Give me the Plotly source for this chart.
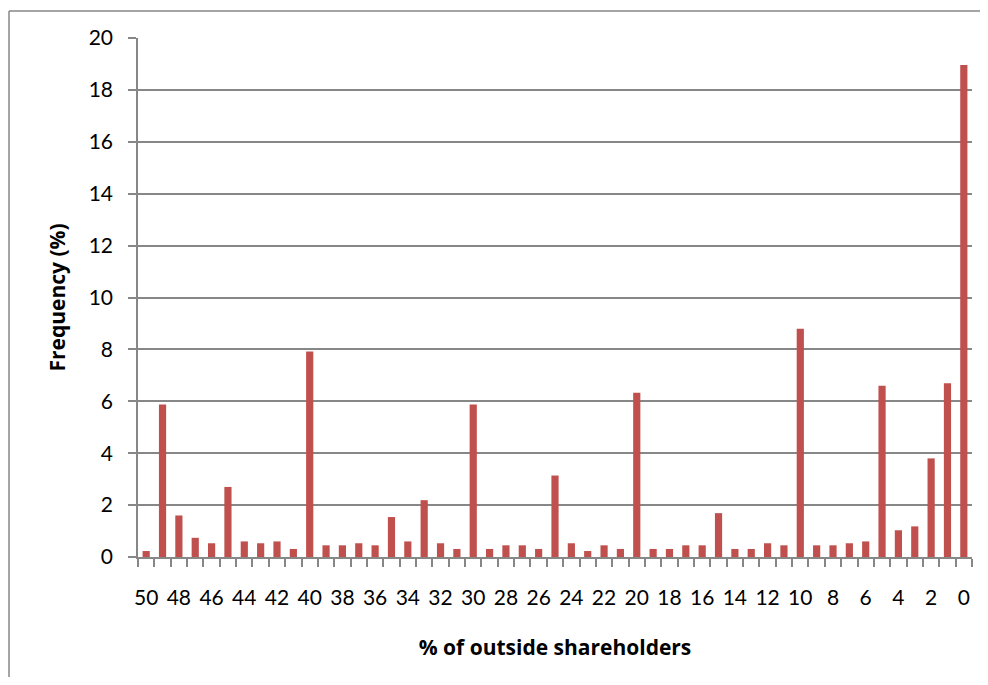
import plotly.graph_objects as go

# Categories: % of outside shareholders (50 down to 0)
categories = list(range(50, -1, -1))
frequency = [
    0.23, 5.88, 1.6, 0.74, 0.53, 2.7, 0.6, 0.53, 0.6, 0.31,   # 50..41
    7.92, 0.45, 0.45, 0.53, 0.45, 1.54, 0.6, 2.19, 0.53, 0.31,  # 40..31
    5.88, 0.31, 0.45, 0.45, 0.31, 3.14, 0.53, 0.23, 0.45, 0.31, # 30..21
    6.33, 0.31, 0.31, 0.45, 0.45, 1.69, 0.31, 0.31, 0.53, 0.45, # 20..11
    8.8, 0.45, 0.45, 0.53, 0.6, 6.6, 1.03, 1.18, 3.8, 6.7,      # 10..1
    18.96,                                                      # 0
]
x_tick_vals = list(range(50, -1, -2))
x_tick_text = [str(v) for v in x_tick_vals]
y_tick_vals = list(range(0, 21, 2))

GRAY = "#878787"
FONT = "Lato"
TITLE_FONT = "Open Sans"

fig = go.Figure(
    go.Bar(
        x=categories,
        y=frequency,
        marker=dict(color="#C0504D", line=dict(width=0)),
        hoverinfo="x+y",
    )
)

bx = (1 - 130) / 834
by = (549 - 3) / 519
fig.update_layout(
    width=972,
    height=669,
    margin=dict(l=130, r=8, t=30, b=120),
    paper_bgcolor="white",
    plot_bgcolor="white",
    bargap=0.56,
    showlegend=False,
    font=dict(family=FONT, size=21, color="#000000"),
    shapes=[
        dict(type="line", xref="paper", yref="paper",
             x0=bx, x1=bx, y0=-0.5, y1=by,
             line=dict(color=GRAY, width=1.5), layer="below"),
        dict(type="line", xref="paper", yref="paper",
             x0=bx, x1=1.5, y0=by, y1=by,
             line=dict(color=GRAY, width=1.5), layer="below"),
    ],
)

fig.update_xaxes(
    range=[50.5, -0.5],
    tickmode="array",
    tickvals=x_tick_vals,
    ticktext=x_tick_text,
    ticks="",
    showgrid=False,
    zeroline=False,
    showline=True,
    linecolor=GRAY,
    linewidth=1.5,
    ticklabelstandoff=21,
    tickfont=dict(family=FONT, size=21),
    minor=dict(ticks="outside", ticklen=8, tick0=0.5, dtick=1,
               tickcolor=GRAY, tickwidth=1.5, showgrid=False),
    title=dict(text="<b>% of outside shareholders</b>",
               font=dict(family=TITLE_FONT, size=21), standoff=32),
)

fig.update_yaxes(
    range=[0, 20],
    tickmode="array",
    tickvals=y_tick_vals,
    ticks="outside",
    ticklen=8,
    tickcolor=GRAY,
    tickwidth=1.5,
    showgrid=True,
    gridcolor=GRAY,
    gridwidth=1.5,
    zeroline=False,
    showline=True,
    linecolor=GRAY,
    linewidth=1.5,
    ticklabelstandoff=11,
    tickfont=dict(family=FONT, size=21),
    title=dict(text="<b>Frequency (%)</b>",
               font=dict(family=TITLE_FONT, size=21), standoff=17),
)

fig.write_html("out.html")
